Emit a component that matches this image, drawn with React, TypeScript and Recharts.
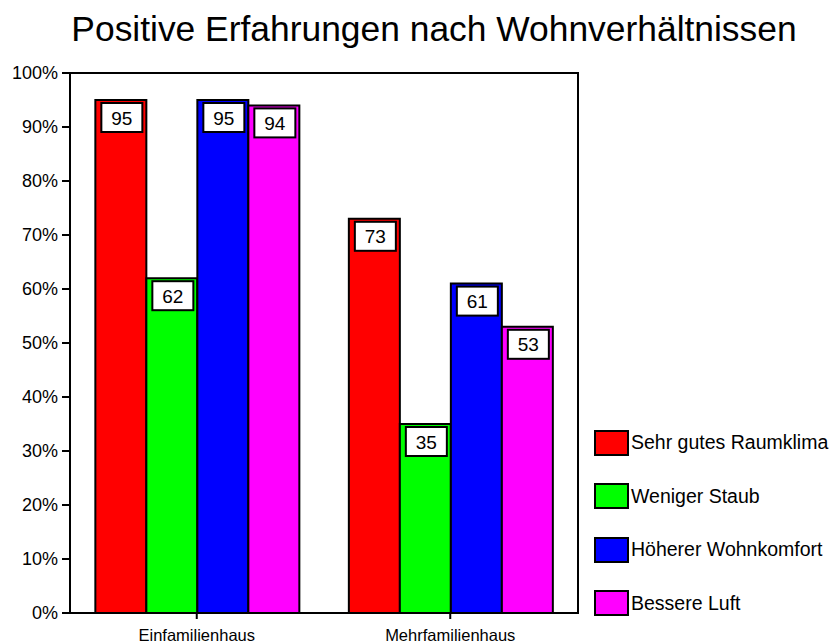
import React from 'react';
import { BarChart, Bar, XAxis, YAxis, LabelList } from 'recharts';

const categories = ['Einfamilienhaus', 'Mehrfamilienhaus'];
const raumklima = [95, 73];
const staub = [62, 35];
const wohnkomfort = [95, 61];
const luft = [94, 53];
const yTicks = [0, 10, 20, 30, 40, 50, 60, 70, 80, 90, 100];

const seriesList = [
  { key: 'raumklima', name: 'Sehr gutes Raumklima', color: '#ff0000' },
  { key: 'staub', name: 'Weniger Staub', color: '#00ff00' },
  { key: 'wohnkomfort', name: 'Höherer Wohnkomfort', color: '#0000ff' },
  { key: 'luft', name: 'Bessere Luft', color: '#ff00ff' },
];

const data = categories.map((c, i) => ({
  name: c,
  raumklima: raumklima[i],
  staub: staub[i],
  wohnkomfort: wohnkomfort[i],
  luft: luft[i],
}));

const FONT = '"Liberation Sans", Arial, sans-serif';

// plot area box (matches chart margins below)
const PLOT = { left: 70, top: 73, right: 577, bottom: 613 };

const ValueBox = (props: any) => {
  const { x, y, width, value } = props;
  const cx = x + width / 2 + 1;
  const bw = 41;
  const bh = 29;
  return (
    <g>
      <rect x={cx - bw / 2} y={y + 3} width={bw} height={bh} fill="#fff" stroke="#000" strokeWidth={2} />
      <text x={cx} y={y + 3 + bh / 2 + 7} textAnchor="middle" fontSize={19} fontFamily={FONT} fill="#000">
        {value}
      </text>
    </g>
  );
};

const LegendBox = () => (
  <div style={{ position: 'absolute', left: 594, top: 416, fontFamily: FONT, fontSize: 19.5 }}>
    {seriesList.map((s) => (
      <div key={s.key} style={{ display: 'flex', alignItems: 'center', height: 53.5 }}>
        <div
          style={{
            width: 31,
            height: 22,
            background: s.color,
            border: '2px solid #000',
            marginRight: 2,
          }}
        />
        <span style={{ color: '#000', whiteSpace: 'nowrap' }}>{s.name}</span>
      </div>
    ))}
  </div>
);

export default function App() {
  return (
    <div style={{ position: 'absolute', left: 0, top: 0, width: 830, height: 644, background: '#fff', overflow: 'hidden' }}>
      <div
        style={{
          position: 'absolute',
          left: 39,
          top: 9,
          width: 790,
          textAlign: 'center',
          fontFamily: FONT,
          fontSize: 35.4,
          lineHeight: '40px',
          color: '#000',
          whiteSpace: 'nowrap',
        }}
      >
        Positive Erfahrungen nach Wohnverhältnissen
      </div>
      <BarChart
        width={830}
        height={644}
        data={data}
        margin={{ top: PLOT.top, right: 830 - PLOT.right, bottom: 0, left: 8 }}
        barCategoryGap="10%"
        barGap={0}
      >
        <XAxis
          dataKey="name"
          height={31}
          axisLine={{ stroke: '#000', strokeWidth: 2 }}
          tickLine={{ stroke: '#000', strokeWidth: 2 }}
          tickSize={6}
          tickMargin={10}
          tick={{ fill: '#000', fontSize: 16.5, fontFamily: FONT }}
        />
        <YAxis
          width={62}
          domain={[0, 100]}
          ticks={yTicks}
          interval={0}
          tickFormatter={(v) => `${v}%`}
          axisLine={{ stroke: '#000', strokeWidth: 2 }}
          tickLine={{ stroke: '#000', strokeWidth: 2 }}
          tickSize={8}
          tickMargin={4}
          tick={{ fill: '#000', fontSize: 18, fontFamily: FONT }}
        />
        {seriesList.map((s) => (
          <Bar key={s.key} dataKey={s.key} name={s.name} fill={s.color} stroke="#000" strokeWidth={2} isAnimationActive={false}>
            <LabelList dataKey={s.key} content={<ValueBox />} />
          </Bar>
        ))}
      </BarChart>
      {/* frame: top and right edges of plot area */}
      <div
        style={{
          position: 'absolute',
          left: PLOT.left,
          top: PLOT.top - 1,
          width: PLOT.right - PLOT.left,
          height: PLOT.bottom - PLOT.top,
          borderTop: '2px solid #000',
          borderRight: '2px solid #000',
          pointerEvents: 'none',
        }}
      />
      <LegendBox />
    </div>
  );
}
